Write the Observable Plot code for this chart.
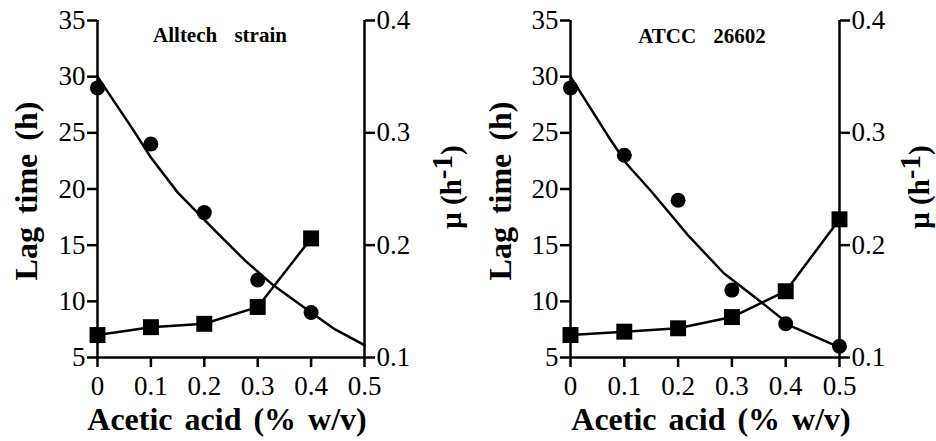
<!DOCTYPE html>
<html>
<head>
<meta charset="utf-8">
<script src="https://cdn.jsdelivr.net/npm/d3@7"></script>
<script src="https://cdn.jsdelivr.net/npm/@observablehq/plot@0.6"></script>
<style>
  html, body { margin: 0; padding: 0; background: white; }
  #wrap { display: flex; width: 936px; height: 441px; }
  #wrap svg { display: block; overflow: visible; background: none !important; }
  #wrap svg, #wrap svg text, #wrap svg tspan { font-family: "Liberation Serif", "DejaVu Serif", "Noto Serif", serif !important; }
</style>
</head>
<body>
<div id="wrap"></div>
<script>
// ---- data ----
const xTicks = [0, 0.1, 0.2, 0.3, 0.4, 0.5];
const lagTicks = [5, 10, 15, 20, 25, 30, 35];
const muTicks = [0.1, 0.2, 0.3, 0.4];

const alltechConc = [0, 0.1, 0.2, 0.3, 0.4];
const alltechLag = [29, 24, 17.9, 11.9, 9];
const alltechMu = [0.120, 0.127, 0.130, 0.145, 0.206];
const alltechFitConc = [0, 0.065, 0.1, 0.15, 0.22, 0.277, 0.33, 0.4, 0.445, 0.5];
const alltechFitLag = [30, 25.4, 22.8, 19.7, 16.3, 13.6, 11.4, 9.0, 7.5, 6.1];

const atccConc = [0, 0.1, 0.2, 0.3, 0.4, 0.5];
const atccLag = [29, 23, 19, 11, 8, 6];
const atccMu = [0.120, 0.123, 0.126, 0.136, 0.159, 0.223];
const atccFitConc = [0, 0.07, 0.105, 0.15, 0.22, 0.285, 0.35, 0.41, 0.5];
const atccFitLag = [30, 24.7, 22.2, 19.8, 15.8, 12.5, 10.1, 7.8, 5.9];

const panels = [
  {title: "Alltech strain", conc: alltechConc, lag: alltechLag, mu: alltechMu,
   fitConc: alltechFitConc, fitLag: alltechFitLag,
   mL: 97, mR: 104, lagX: 26, muX: 452, titleX: 220, titleY: 42, xlabX: 227},
  {title: "ATCC 26602", conc: atccConc, lag: atccLag, mu: atccMu,
   fitConc: atccFitConc, fitLag: atccFitLag,
   mL: 102, mR: 97, lagX: 32, muX: 452, titleX: 234, titleY: 43, xlabX: 243}
];

// μ axis (0.1–0.4) shares the frame with lag time (5–35)
const lagOf = m => 5 + (m - 0.1) * 100;
const muOf = l => (l - 5) / 100 + 0.1;

const W = 468, H = 441;
const serif = "Liberation Serif, DejaVu Serif, Noto Serif, serif";
const fmtX = d => d === 0 ? "0" : d3.format(".1f")(d);

for (const p of panels) {
  const rows = p.conc.map((c, i) => ({c, lag: p.lag[i], mu: p.mu[i]}));
  const fit = p.fitConc.map((c, i) => ({c, lag: p.fitLag[i]}));
  const svg = Plot.plot({
    width: W, height: H,
    marginLeft: p.mL, marginRight: p.mR, marginTop: 20, marginBottom: 84,
    style: {fontFamily: serif, color: "black"},
    x: {domain: [0, 0.5]},
    y: {domain: [5, 35]},
    marks: [
      Plot.axisX({ticks: xTicks, tickFormat: fmtX, tickSize: 10, tickPadding: 8, strokeWidth: 2.5, fontSize: 27, label: null}),
      Plot.axisY({ticks: lagTicks, anchor: "left", tickSize: 10, tickPadding: 2, strokeWidth: 2.5, fontSize: 27, label: null}),
      Plot.axisY({ticks: muTicks.map(lagOf), anchor: "right", tickFormat: d => muOf(d).toFixed(1),
                  tickSize: 10, tickPadding: 2, strokeWidth: 2.5, fontSize: 27, label: null}),
      Plot.ruleX([0, 0.5], {y1: 5, y2: 35, strokeWidth: 2.5}),
      Plot.ruleY([5], {x1: 0, x2: 0.5, strokeWidth: 2.5}),
      Plot.line(fit, {x: "c", y: "lag", strokeWidth: 2.5, stroke: "black"}),
      Plot.line(rows, {x: "c", y: d => lagOf(d.mu), strokeWidth: 2.5, stroke: "black"}),
      Plot.dot(rows, {x: "c", y: "lag", r: 7.5, fill: "black"}),
      Plot.dot(rows, {x: "c", y: d => lagOf(d.mu), symbol: "square", r: 9, fill: "black"})
    ]
  });
  const s = d3.select(svg);
  const bold = (t) => t.attr("font-family", serif).attr("font-weight", "bold").attr("fill", "black");
  bold(s.append("text"))
    .attr("x", p.titleX).attr("y", p.titleY).attr("text-anchor", "middle")
    .attr("font-size", 21).style("word-spacing", "12px").text(p.title);
  bold(s.append("text"))
    .attr("x", p.xlabX).attr("y", 430).attr("text-anchor", "middle")
    .attr("font-size", 32).style("word-spacing", "4px").text("Acetic acid (% w/v)");
  bold(s.append("text"))
    .attr("transform", `translate(${p.lagX},191) rotate(-90)`).attr("text-anchor", "middle")
    .attr("dy", "0.35em").attr("font-size", 32).style("word-spacing", "5px").text("Lag time (h)");
  const mu = bold(s.append("text"))
    .attr("transform", `translate(${p.muX},187) rotate(-90)`).attr("text-anchor", "middle")
    .attr("dy", "0.3em").attr("font-size", 29);
  mu.append("tspan").text("μ (h");
  mu.append("tspan").attr("dy", "-0.3em").text("-1");
  mu.append("tspan").attr("dy", "0.3em").text(")");
  document.getElementById("wrap").appendChild(svg);
}
</script>
</body>
</html>
